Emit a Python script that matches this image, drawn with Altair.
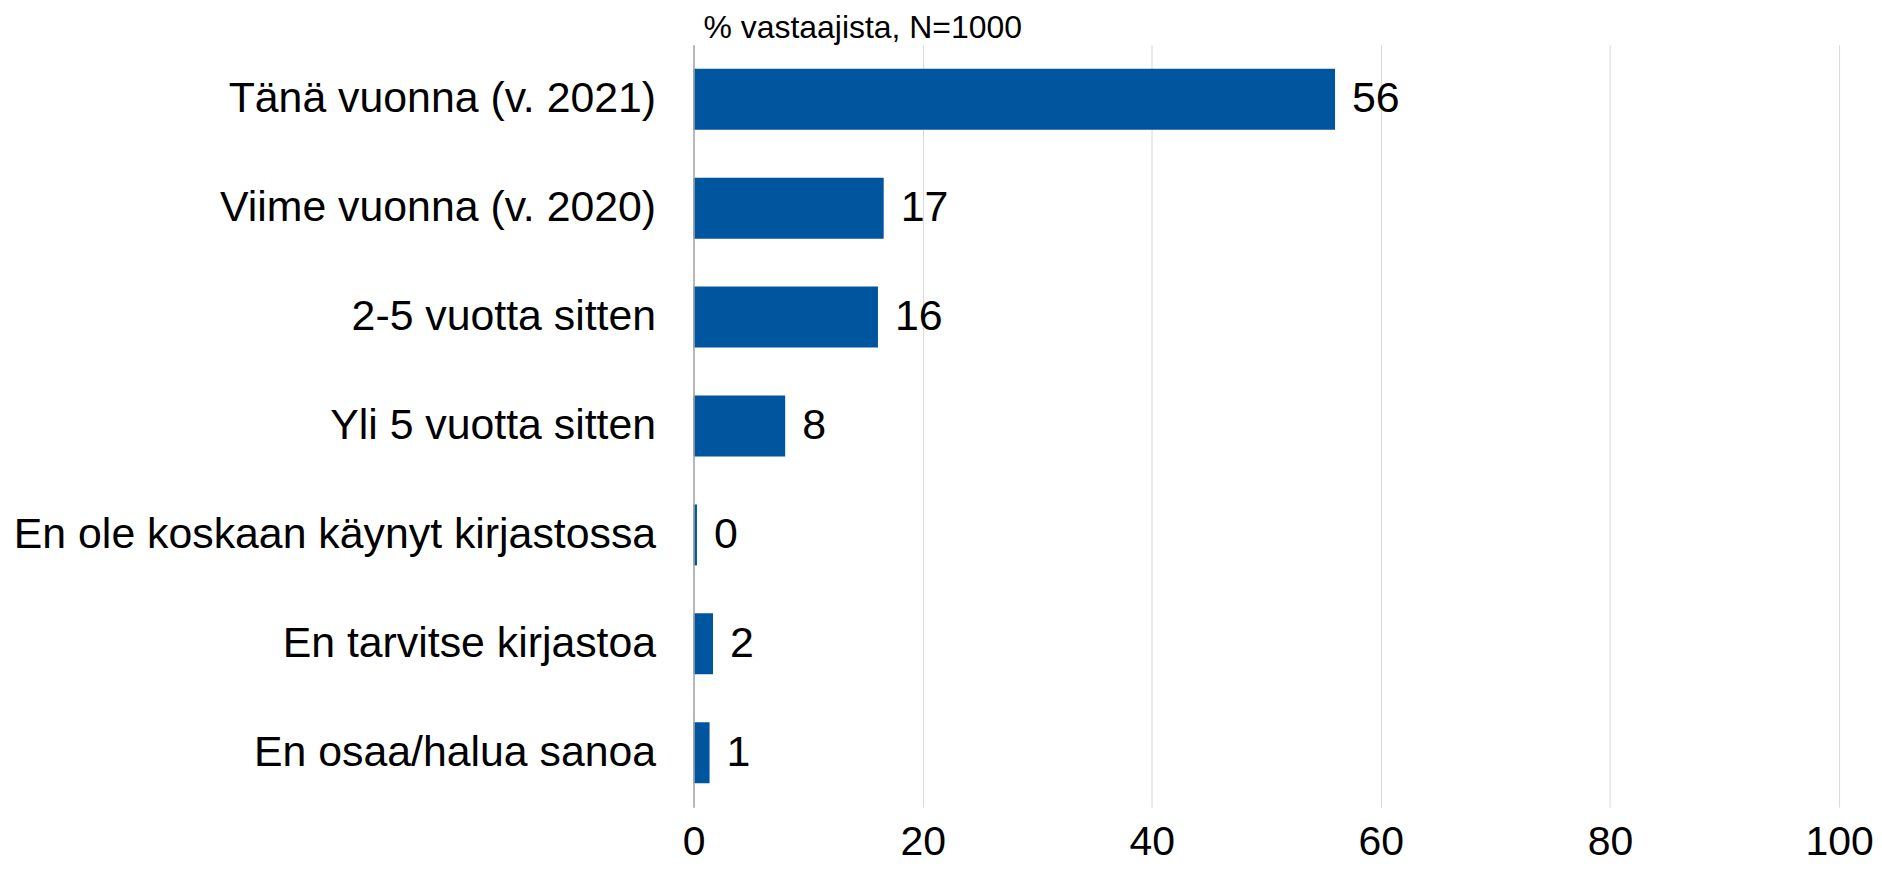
import altair as alt
import pandas as pd

categories = [
    "Tänä vuonna (v. 2021)",
    "Viime vuonna (v. 2020)",
    "2-5 vuotta sitten",
    "Yli 5 vuotta sitten",
    "En ole koskaan käynyt kirjastossa",
    "En tarvitse kirjastoa",
    "En osaa/halua sanoa",
]
values = [56.0, 16.6, 16.1, 8.0, 0.3, 1.7, 1.4]
x_ticks = [0, 20, 40, 60, 80, 100]
title_text = "% vastaajista, N=1000"

df = pd.DataFrame({"cat": categories, "val": values})

FONT = "Liberation Sans"
BAR = "#00559F"

y_enc = alt.Y(
    "cat:N",
    sort=categories,
    title=None,
    scale=alt.Scale(paddingInner=0.44, paddingOuter=0.22),
    axis=alt.Axis(
        labelFontSize=42.9,
        labelFont=FONT,
        labelColor="#000000",
        labelPadding=38,
        labelLimit=0,
        ticks=False,
        domain=True,
        domainColor="#a6a6a6",
        domainWidth=1.5,
        grid=False,
        zindex=2,
    ),
)

x_enc = alt.X(
    "val:Q",
    title=None,
    scale=alt.Scale(domain=[0, 100], nice=False),
    axis=alt.Axis(
        values=x_ticks,
        labelFontSize=41,
        labelFont=FONT,
        labelColor="#000000",
        labelPadding=15,
        ticks=False,
        domain=False,
        grid=True,
        gridColor="#d9d9d9",
        gridWidth=1,
        labelFlush=False,
    ),
)

bars = alt.Chart(df).mark_bar(color=BAR).encode(x=x_enc, y=y_enc)

labels = alt.Chart(df).mark_text(
    align="left", baseline="middle", dx=17, fontSize=43, font=FONT, color="#000000"
).encode(
    x=alt.X("val:Q"),
    y=alt.Y("cat:N", sort=categories),
    text=alt.Text("val:Q", format=".0f"),
)

chart = (
    alt.layer(bars, labels)
    .properties(
        width=1148,
        height=764,
        padding={"left": 5, "top": 3, "right": 0, "bottom": 0},
        title=alt.TitleParams(
            title_text,
            anchor="start",
            frame="group",
            fontSize=32,
            font=FONT,
            fontWeight="normal",
            color="#000000",
            dx=10,
            offset=0,
        ),
    )
    .configure_view(stroke=None)
)

chart.save("out.html", embed_options={"renderer": "svg", "actions": False})
